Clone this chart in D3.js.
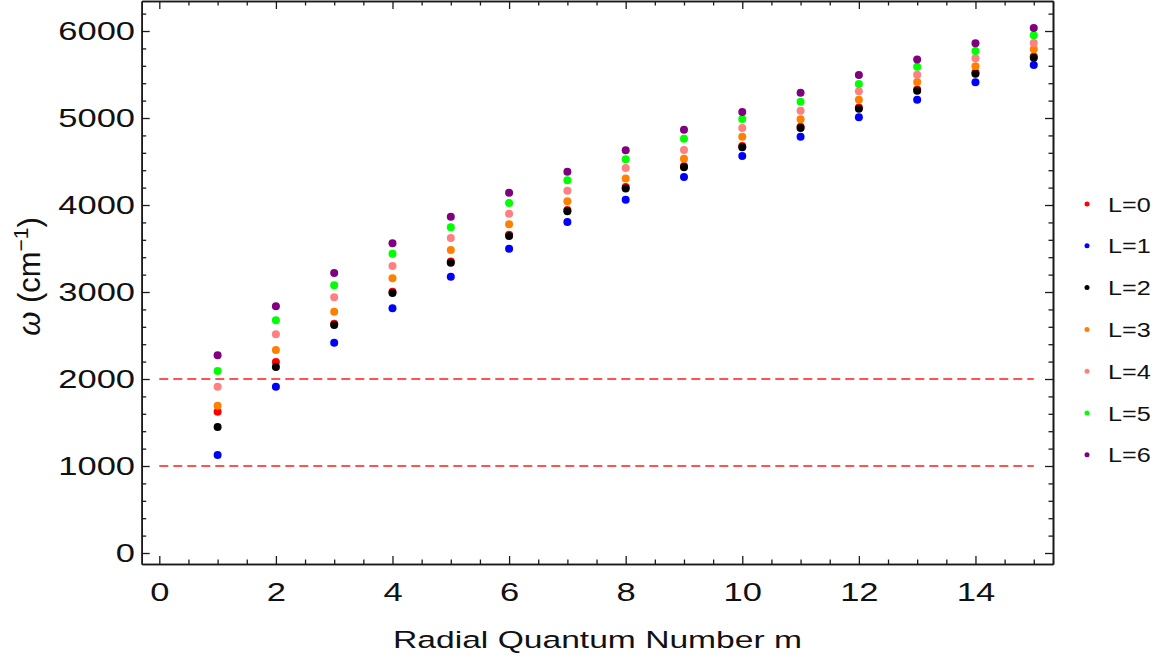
<!DOCTYPE html>
<html>
<head>
<meta charset="utf-8">
<script src="https://cdn.jsdelivr.net/npm/d3@7"></script>
<style>
  html, body { margin: 0; padding: 0; background: #fff; }
  svg { display: block; font-family: "Liberation Sans", Arial, sans-serif; }
</style>
</head>
<body>
<svg id="chart" width="1164" height="664"></svg>
<script>
// ---- data ----
const mValues = [1, 2, 3, 4, 5, 6, 7, 8, 9, 10, 11, 12, 13, 14, 15];
const seriesNames = ["L=0", "L=1", "L=2", "L=3", "L=4", "L=5", "L=6"];
const seriesColors = ["#ff0000", "#0000ff", "#000000", "#ff8000", "#ff8080", "#00ff00", "#800080"];
const L0 = [1624, 2195, 2636, 3004, 3352, 3658, 3942, 4206, 4448, 4678, 4900, 5122, 5329, 5524, 5708];
const L1 = [1126, 1911, 2417, 2813, 3176, 3498, 3805, 4061, 4322, 4563, 4785, 5008, 5210, 5410, 5609];
const L2 = [1448, 2138, 2621, 2989, 3337, 3643, 3927, 4191, 4433, 4663, 4885, 5107, 5314, 5509, 5693];
const L3 = [1693, 2333, 2774, 3157, 3483, 3780, 4042, 4306, 4532, 4785, 4985, 5210, 5414, 5594, 5790];
const L4 = [1911, 2514, 2939, 3299, 3621, 3900, 4165, 4425, 4632, 4885, 5084, 5307, 5498, 5686, 5862];
const L5 = [2092, 2675, 3077, 3440, 3743, 4023, 4284, 4525, 4763, 4989, 5187, 5391, 5590, 5770, 5950];
const L6 = [2272, 2836, 3218, 3560, 3866, 4141, 4383, 4629, 4866, 5069, 5291, 5494, 5674, 5858, 6034];
const seriesValues = [L0, L1, L2, L3, L4, L5, L6];
const refLevels = [1000, 2000];
const refRange = [0, 15];
const xMajorTicks = [0, 2, 4, 6, 8, 10, 12, 14];
const xMinorTicks = d3.range(0.5, 15.01, 0.5).filter(v => v % 2 !== 0);
const yMajorTicks = [0, 1000, 2000, 3000, 4000, 5000, 6000];
const yMinorTicks = d3.range(200, 6201, 200).filter(v => v % 1000 !== 0);
const xLabel = "Radial Quantum Number m";

// ---- layout ----
const svg = d3.select("#chart");
const pLeft = 141.7, pRight = 1053, pTop = 1, pBottom = 564;
const x = d3.scaleLinear().domain([-0.302, 15.33]).range([pLeft, pRight]);
const y = d3.scaleLinear().domain([-126.4, 6345]).range([pBottom, pTop]);
const frameColor = "#1a1a1a";
const majorLen = 8, minorLen = 4.5;
const textSx = 1.38;

function styleAxis(g) {
  g.select(".domain").attr("stroke", frameColor).attr("stroke-width", 1.6);
  g.selectAll(".tick line").attr("stroke", frameColor).attr("stroke-width", 1.3);
}

// bottom
const gB = svg.append("g").attr("transform", `translate(0,${pBottom})`)
  .call(d3.axisBottom(x).tickValues(xMajorTicks).tickSize(-majorLen).tickSizeOuter(0).tickPadding(19));
styleAxis(gB);
gB.selectAll(".tick text").attr("font-size", 25).attr("fill", "#111")
  .attr("font-family", "Liberation Sans, Arial, sans-serif")
  .attr("transform", `scale(${textSx},1)`);
svg.append("g").attr("transform", `translate(0,${pBottom})`)
  .call(d3.axisBottom(x).tickValues(xMinorTicks).tickSize(-minorLen).tickSizeOuter(0).tickFormat(""))
  .call(styleAxis);

// top
svg.append("g").attr("transform", `translate(0,${pTop})`)
  .call(d3.axisTop(x).tickValues(xMajorTicks).tickSize(-majorLen).tickSizeOuter(0).tickFormat(""))
  .call(styleAxis);
svg.append("g").attr("transform", `translate(0,${pTop})`)
  .call(d3.axisTop(x).tickValues(xMinorTicks).tickSize(-minorLen).tickSizeOuter(0).tickFormat(""))
  .call(styleAxis);

// left
const gL = svg.append("g").attr("transform", `translate(${pLeft},0)`)
  .call(d3.axisLeft(y).tickValues(yMajorTicks).tickSize(-majorLen).tickSizeOuter(0).tickFormat(d3.format("d")));
styleAxis(gL);
gL.selectAll(".tick text").attr("font-size", 25).attr("fill", "#111")
  .attr("font-family", "Liberation Sans, Arial, sans-serif")
  .attr("x", -6.7 / textSx)
  .attr("transform", `scale(${textSx},1)`);
svg.append("g").attr("transform", `translate(${pLeft},0)`)
  .call(d3.axisLeft(y).tickValues(yMinorTicks).tickSize(-minorLen).tickSizeOuter(0).tickFormat(""))
  .call(styleAxis);

// right
svg.append("g").attr("transform", `translate(${pRight},0)`)
  .call(d3.axisRight(y).tickValues(yMajorTicks).tickSize(-majorLen).tickSizeOuter(0).tickFormat(""))
  .call(styleAxis);
svg.append("g").attr("transform", `translate(${pRight},0)`)
  .call(d3.axisRight(y).tickValues(yMinorTicks).tickSize(-minorLen).tickSizeOuter(0).tickFormat(""))
  .call(styleAxis);

// reference dashed lines
svg.append("g").selectAll("line").data(refLevels).join("line")
  .attr("x1", x(refRange[0])).attr("x2", x(refRange[1]))
  .attr("y1", d => y(d)).attr("y2", d => y(d))
  .attr("stroke", "#ff5252").attr("stroke-width", 2)
  .attr("stroke-dasharray", "9,5");

// points
const pts = svg.append("g");
seriesValues.forEach((vals, i) => {
  pts.append("g").selectAll("circle").data(vals).join("circle")
    .attr("cx", (d, j) => x(mValues[j]))
    .attr("cy", d => y(d))
    .attr("r", 4)
    .attr("fill", seriesColors[i]);
});

// legend
const legend = svg.append("g");
seriesNames.forEach((name, i) => {
  const ly = 204 + i * 41.8;
  legend.append("circle").attr("cx", 1087).attr("cy", ly).attr("r", 2.5).attr("fill", seriesColors[i]);
  legend.append("text")
    .attr("transform", `translate(1108,${ly}) scale(1.2,1)`)
    .attr("dy", "0.36em")
    .attr("font-size", 21).attr("fill", "#111")
    .text(name);
});

// x label
svg.append("text")
  .attr("transform", `translate(597.5,648) scale(1.43,1)`)
  .attr("text-anchor", "middle")
  .attr("font-size", 23.5).attr("fill", "#111")
  .text(xLabel);

// y label
const yl = svg.append("text")
  .attr("transform", "translate(40,276.5) rotate(-90)")
  .attr("text-anchor", "middle")
  .attr("font-size", 31).attr("fill", "#111");
yl.append("tspan").attr("font-style", "italic").text("ω");
yl.append("tspan").text(" (cm");
yl.append("tspan").attr("font-size", 21).attr("dy", -12).text("−1");
yl.append("tspan").attr("dy", 12).text(")");
</script>
</body>
</html>
